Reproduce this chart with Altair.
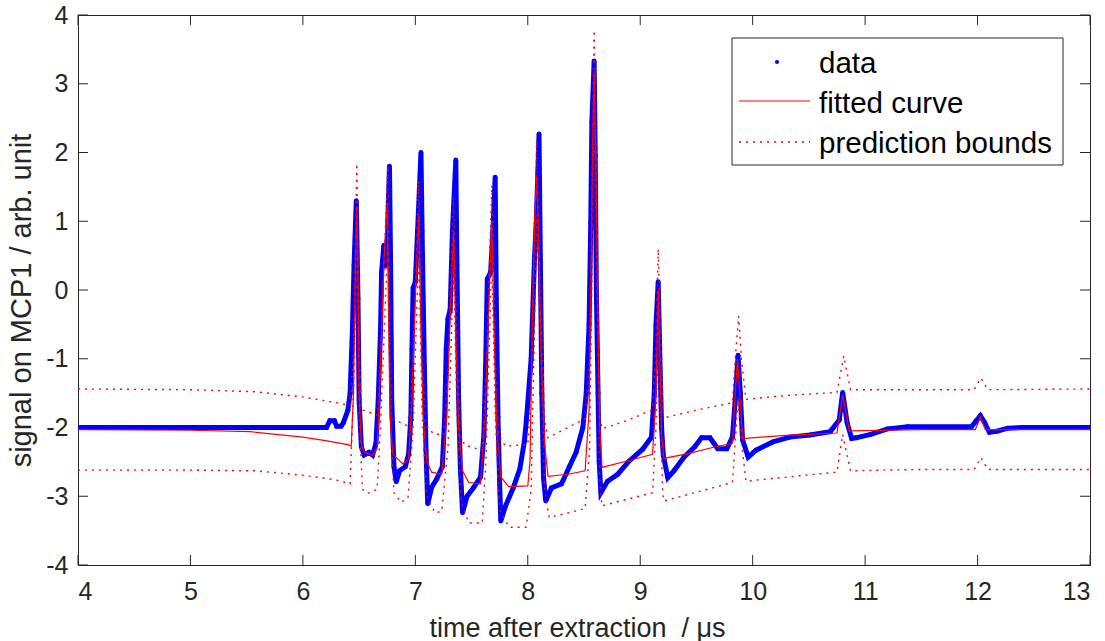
import altair as alt
import pandas as pd

# ---------------- data ----------------
x_ticks = [4, 5, 6, 7, 8, 9, 10, 11, 12, 13]
y_ticks = [-4, -3, -2, -1, 0, 1, 2, 3, 4]

data_x = [4.00, 5.00, 6.00, 6.21, 6.24, 6.28, 6.30, 6.34, 6.36, 6.40, 6.42, 6.44, 6.455, 6.475,
          6.49, 6.50, 6.52, 6.545, 6.59, 6.62, 6.65, 6.67, 6.69, 6.70, 6.72, 6.735, 6.75, 6.77,
          6.78, 6.79, 6.81, 6.83, 6.86, 6.91, 6.94, 6.96, 6.97, 6.98, 7.00, 7.02, 7.05,
          7.06, 7.08, 7.095, 7.11, 7.145, 7.19, 7.24, 7.26, 7.275, 7.29, 7.31, 7.33, 7.36,
          7.37, 7.385, 7.40, 7.42, 7.46, 7.52, 7.58, 7.61, 7.625, 7.64, 7.67, 7.69, 7.71,
          7.72, 7.735, 7.75, 7.76, 7.80, 7.87, 7.93, 7.97, 7.99, 8.03, 8.06, 8.075, 8.09, 8.10,
          8.105, 8.115, 8.125, 8.14, 8.16, 8.21, 8.30, 8.37, 8.43, 8.49, 8.52, 8.545, 8.56, 8.57, 8.59,
          8.60, 8.61, 8.625, 8.635, 8.65, 8.71, 8.80, 8.90, 9.02, 9.10, 9.125, 9.14, 9.16,
          9.175, 9.19, 9.205, 9.245, 9.30, 9.39, 9.485, 9.545, 9.62, 9.69, 9.77, 9.82, 9.845, 9.87,
          9.89, 9.91, 9.96, 10.03, 10.18, 10.33, 10.51, 10.69, 10.77, 10.80, 10.84, 10.88, 10.92,
          11.05, 11.20, 11.38, 11.945, 11.99, 12.025, 12.06, 12.105, 12.18, 12.27, 12.40, 13.00]
data_y = [-2.00, -2.00, -2.00, -2.00, -1.90, -1.90, -1.98, -1.98, -1.93, -1.75, -1.50, -0.60, 0.36, 1.30,
          -0.13, -1.60, -2.28, -2.40, -2.36, -2.40, -2.23, -1.60, -0.60, 0.26, 0.65, 0.35, 0.70, 1.80,
          0.36, -1.60, -2.57, -2.79, -2.63, -2.57, -2.39, -1.85, -0.86, 0.03, 0.12, 0.86, 2.00,
          0.86, -1.10, -2.33, -3.11, -2.87, -2.75, -2.57, -1.89, -0.86, -0.42, -0.28, 0.86, 1.89,
          0.36, -1.60, -2.57, -3.24, -3.00, -2.87, -2.72, -2.10, -1.10, 0.16, 0.26, 0.86, 1.64,
          -0.13, -1.85, -2.82, -3.36, -3.15, -2.88, -2.60, -2.20, -1.85, -1.00, 0.48, 0.97, 1.71, 2.27,
          1.46, -0.01, -1.50, -2.73, -3.07, -2.88, -2.82, -2.57, -2.36, -2.00, -1.50, -0.51, 0.97, 2.44, 3.33,
          1.95, -0.01, -1.50, -2.49, -2.95, -2.78, -2.68, -2.49, -2.32, -2.14, -1.50, -0.51, 0.12,
          -1.00, -2.00, -2.40, -2.73, -2.63, -2.43, -2.28, -2.15, -2.15, -2.31, -2.31, -2.14, -1.59, -0.95,
          -1.50, -2.18, -2.43, -2.33, -2.21, -2.14, -2.11, -2.06, -1.89, -1.49, -1.93, -2.16, -2.15,
          -2.10, -2.02, -1.99, -1.99, -1.90, -1.83, -1.92, -2.07, -2.05, -2.01, -2.00, -2.00]

fit_x = [4.0, 4.5, 5.0, 5.53, 6.0, 6.2, 6.40, 6.43, 6.45, 6.47, 6.48, 6.49, 6.50, 6.52, 6.55, 6.62,
         6.66, 6.68, 6.72, 6.75, 6.76, 6.775, 6.80, 6.89, 6.94, 6.97, 7.00, 7.03, 7.05, 7.07, 7.10,
         7.145, 7.235, 7.28, 7.31, 7.34, 7.36, 7.385, 7.42, 7.475, 7.58, 7.62, 7.65, 7.68, 7.70,
         7.725, 7.76, 7.83, 8.00, 8.02, 8.04, 8.06, 8.08, 8.10, 8.12, 8.15, 8.18, 8.36, 8.51, 8.545,
         8.565, 8.575, 8.59, 8.605, 8.62, 8.64, 8.66, 8.90, 9.11, 9.14, 9.16, 9.175, 9.19, 9.21,
         9.425, 9.67, 9.82, 9.845, 9.865, 9.885, 9.91, 10.33, 10.75, 10.80, 10.86, 11.50, 11.98,
         12.025, 12.07, 13.0]
fit_y = [-2.03, -2.035, -2.04, -2.06, -2.14, -2.19, -2.25, -2.27, -1.50, 0.60, 1.22, 0.30, -1.50, -2.25,
         -2.36, -2.40, -2.30, -1.60, 0.40, 1.27, -0.13, -1.84, -2.39, -2.53, -2.46, -1.60, -0.13, 1.10,
         -0.61, -1.84, -2.48, -2.65, -2.68, -1.84, -0.37, 0.86, -0.61, -2.00, -2.63, -2.80, -2.82,
         -1.84, -0.37, 1.00, -0.61, -2.00, -2.72, -2.86, -2.85, -2.48, -0.51, 0.97, 1.66, 0.48, -1.00,
         -2.24, -2.71, -2.68, -2.63, -1.75, 0.48, 1.95, 3.19, 1.95, -0.01, -2.00, -2.58, -2.48, -2.39,
         -1.50, 0.02, -1.00, -2.10, -2.45, -2.38, -2.28, -2.23, -1.49, -1.00, -1.49, -2.16, -2.11,
         -2.08, -1.53, -2.05, -2.03, -2.03, -1.85, -2.03, -2.03]

up_x = [4.0, 5.0, 5.575, 5.975, 6.30, 6.42, 6.45, 6.48, 6.50, 6.52, 6.665, 6.69, 6.755, 6.775, 6.79,
        6.95, 6.98, 7.03, 7.06, 7.09, 7.16, 7.25, 7.29, 7.34, 7.37, 7.40, 7.44, 7.595, 7.63, 7.68,
        7.71, 7.74, 7.80, 8.00, 8.03, 8.08, 8.11, 8.15, 8.18, 8.51, 8.55, 8.59, 8.62, 8.64, 8.66,
        8.90, 9.11, 9.14, 9.16, 9.18, 9.20, 9.21, 9.52, 9.82, 9.845, 9.875, 9.90, 9.94, 10.33,
        10.75, 10.81, 10.87, 11.50, 11.97, 12.03, 12.09, 13.0]
up_y = [-1.44, -1.45, -1.48, -1.55, -1.64, -1.68, -0.90, 1.84, -0.90, -1.74, -1.82, -1.00, 1.80, -1.00,
        -1.87, -1.99, -1.00, 1.59, -0.90, -1.95, -2.09, -2.11, -1.20, 1.35, -0.90, -2.10, -2.26,
        -2.33, -1.20, 1.52, -0.90, -2.10, -2.27, -2.25, -1.50, 2.20, 0.00, -1.90, -2.15, -1.87,
        -1.00, 3.78, 0.50, -1.85, -2.02, -1.89, -1.74, -0.80, 0.60, -0.60, -1.75, -1.86, -1.74,
        -1.64, -1.00, -0.38, -1.00, -1.59, -1.53, -1.49, -0.96, -1.45, -1.45, -1.45, -1.28, -1.45,
        -1.44]

lo_x = [4.0, 5.0, 5.575, 5.975, 6.29, 6.42, 6.45, 6.48, 6.50, 6.53, 6.575, 6.66, 6.69, 6.755, 6.78,
        6.81, 6.875, 6.935, 6.98, 7.03, 7.06, 7.10, 7.175, 7.235, 7.29, 7.34, 7.37, 7.41, 7.475,
        7.595, 7.63, 7.68, 7.71, 7.75, 7.835, 7.985, 8.03, 8.08, 8.11, 8.15, 8.19, 8.51, 8.55,
        8.59, 8.62, 8.64, 8.66, 9.11, 9.14, 9.16, 9.18, 9.20, 9.21, 9.82, 9.845, 9.87, 9.90, 9.94,
        10.75, 10.80, 10.87, 11.50, 11.97, 12.03, 12.09, 13.0]
lo_y = [-2.62, -2.62, -2.63, -2.69, -2.76, -2.82, -1.50, 0.60, -1.80, -2.90, -2.96, -2.90, -2.00,
        0.72, -2.00, -2.95, -3.09, -3.02, -2.00, 0.60, -1.80, -3.00, -3.24, -3.22, -2.30, 0.36,
        -1.80, -3.10, -3.39, -3.39, -2.40, 0.48, -1.80, -3.20, -3.45, -3.45, -2.90, 1.10, -0.60,
        -2.90, -3.31, -3.18, -2.30, 2.60, -0.50, -2.80, -3.14, -2.95, -2.00, -0.54, -1.80, -2.95,
        -3.07, -2.80, -2.20, -1.60, -2.20, -2.78, -2.65, -2.10, -2.63, -2.61, -2.61, -2.44, -2.61,
        -2.61]

legend_labels = ["data", "fitted curve", "prediction bounds"]
x_title = "time after extraction\u00a0 / μs"
y_title = "signal on MCP1 / arb. unit"

# ---------------- chart ----------------
W, H = 1012, 550
FONT = "Liberation Sans"
DARK = "#262626"
BLUE = "#0000ff"
RED = "#ff0000"

xscale = alt.Scale(domain=[4, 13], nice=False, zero=False)
yscale = alt.Scale(domain=[-4, 4], nice=False, zero=False)

xaxis = alt.Axis(values=x_ticks, grid=False, tickSize=0, labelPadding=14, labelFontSize=25,
                 labelFont=FONT, labelColor=DARK, domainColor=DARK, title=x_title,
                 labelExpr="'' + datum.value",
                 titleFont=FONT, titleFontSize=27, titleFontWeight="normal", titleColor=DARK,
                 titleX=499, titleY=71, titleAlign="center", titleBaseline="alphabetic")
yaxis = alt.Axis(values=y_ticks, grid=False, tickSize=0, labelPadding=10, labelFontSize=25,
                 labelFont=FONT, labelColor=DARK, domainColor=DARK, title=y_title,
                 labelExpr="'' + datum.value",
                 titleFont=FONT, titleFontSize=29, titleFontWeight="normal", titleColor=DARK,
                 titleX=-48, titleY=285, titleAlign="center", titleBaseline="alphabetic",
                 titleAngle=270)


def X(f="x"):
    return alt.X(f"{f}:Q", scale=xscale, axis=xaxis)


def Y(f="y"):
    return alt.Y(f"{f}:Q", scale=yscale, axis=yaxis)


df_data = pd.DataFrame({"x": data_x, "y": data_y})
df_fit = pd.DataFrame({"x": fit_x, "y": fit_y})
df_up = pd.DataFrame({"x": up_x, "y": up_y})
df_lo = pd.DataFrame({"x": lo_x, "y": lo_y})
df_xt = pd.DataFrame({"x": x_ticks})
df_yt = pd.DataFrame({"y": y_ticks})
one = pd.DataFrame({"a": [0]})

data_line = alt.Chart(df_data).mark_line(color=BLUE, strokeWidth=5, clip=True).encode(x=X(), y=Y())
data_pts = alt.Chart(df_data).mark_circle(color=BLUE, size=24, opacity=1, clip=True).encode(x=X(), y=Y())
fit_line = alt.Chart(df_fit).mark_line(color=RED, strokeWidth=1.2, clip=True).encode(x=X(), y=Y())
up_line = alt.Chart(df_up).mark_line(color=RED, strokeWidth=1.4, strokeDash=[2, 5], clip=True).encode(x=X(), y=Y())
lo_line = alt.Chart(df_lo).mark_line(color=RED, strokeWidth=1.4, strokeDash=[2, 5], clip=True).encode(x=X(), y=Y())

tick_style = dict(color=DARK, strokeWidth=1)
xt_bottom = alt.Chart(df_xt).mark_rule(**tick_style).encode(x=X(), y=alt.value(H), y2=alt.value(H - 10))
xt_top = alt.Chart(df_xt).mark_rule(**tick_style).encode(x=X(), y=alt.value(0), y2=alt.value(10))
yt_left = alt.Chart(df_yt).mark_rule(**tick_style).encode(y=Y(), x=alt.value(0), x2=alt.value(10))
yt_right = alt.Chart(df_yt).mark_rule(**tick_style).encode(y=Y(), x=alt.value(W), x2=alt.value(W - 10))

# legend (drawn by hand, top right)
leg_box = alt.Chart(one).mark_rect(fill="white", stroke=DARK, strokeWidth=1).encode(
    x=alt.value(654), x2=alt.value(985), y=alt.value(23), y2=alt.value(150))
leg_dot = alt.Chart(one).mark_circle(color=BLUE, size=18, opacity=1).encode(
    x=alt.value(699), y=alt.value(47))
leg_solid = alt.Chart(one).mark_rule(color=RED, strokeWidth=1.2).encode(
    x=alt.value(661), x2=alt.value(732), y=alt.value(86))
leg_dotted = alt.Chart(one).mark_rule(color=RED, strokeWidth=1.4, strokeDash=[2, 5]).encode(
    x=alt.value(661), x2=alt.value(732), y=alt.value(127))
leg_texts = [
    alt.Chart(one).mark_text(align="left", baseline="alphabetic", font=FONT, fontSize=29.5,
                             color="black").encode(x=alt.value(741), y=alt.value(yy), text=alt.value(lab))
    for lab, yy in zip(legend_labels, [58, 98, 138])
]

chart = alt.layer(
    data_line, data_pts, fit_line, up_line, lo_line,
    xt_bottom, xt_top, yt_left, yt_right,
    leg_box, leg_dot, leg_solid, leg_dotted, *leg_texts
).properties(
    width=W, height=H,
    autosize=alt.AutoSizeParams(type="none"),
    padding={"left": 78, "top": 15, "right": 15, "bottom": 76},
    background="white",
).configure_view(stroke=DARK, strokeWidth=1)

chart.save("out.html", embed_options={"renderer": "svg", "actions": False})
